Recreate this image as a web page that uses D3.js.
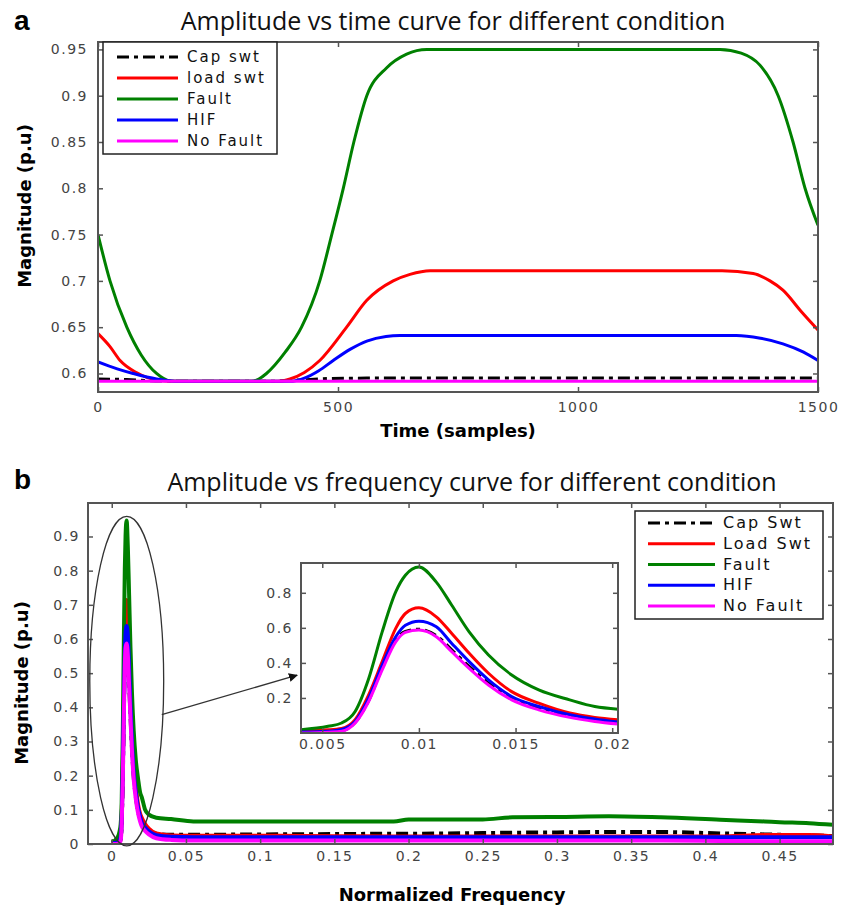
<!DOCTYPE html>
<html>
<head>
<meta charset="utf-8">
<script src="https://cdn.jsdelivr.net/npm/d3@7"></script>
<style>
  body { margin: 0; background: #fff; }
  svg text { font-family: "DejaVu Sans", sans-serif; }
</style>
</head>
<body>
<svg id="chart" width="851" height="907"></svg>
<script>
// ---- data ----
const topSeriesNames = ['Cap swt', 'load swt', 'Fault', 'HIF', 'No Fault'];
const bottomSeriesNames = ['Cap Swt', 'Load Swt', 'Fault', 'HIF', 'No Fault'];
const seriesColors = ['#000000', '#ff0000', '#008000', '#0000ff', '#ff00ff'];

// (a) amplitude vs time, [sample, magnitude]
const capTime = [[0, 0.594], [60, 0.5935], [120, 0.592], [200, 0.5915], [350, 0.5915], [420, 0.593], [480, 0.5945], [560, 0.595], [1500, 0.595]];
const loadTime = [[0, 0.643], [25, 0.629], [46, 0.614], [80, 0.601], [122, 0.593], [160, 0.5915], [375, 0.5915], [400, 0.594], [430, 0.601], [462, 0.614], [518, 0.65], [560, 0.679], [615, 0.70], [650, 0.707], [692, 0.711], [1300, 0.711], [1365, 0.708], [1400, 0.70], [1427, 0.69], [1465, 0.667], [1500, 0.647]];
const faultTime = [[0, 0.75], [25, 0.70], [60, 0.65], [90, 0.62], [122, 0.60], [150, 0.592], [170, 0.5915], [320, 0.5915], [335, 0.594], [351, 0.60], [390, 0.623], [424, 0.65], [462, 0.70], [487, 0.75], [511, 0.80], [533, 0.85], [560, 0.90], [601, 0.93], [643, 0.945], [685, 0.95], [1296, 0.95], [1340, 0.946], [1379, 0.933], [1417, 0.90], [1448, 0.85], [1473, 0.80], [1500, 0.76]];
const hifTime = [[0, 0.6125], [40, 0.605], [73, 0.60], [122, 0.594], [170, 0.5915], [400, 0.5915], [430, 0.595], [460, 0.603], [490, 0.614], [525, 0.626], [560, 0.635], [600, 0.64], [629, 0.641], [1330, 0.641], [1380, 0.638], [1427, 0.632], [1470, 0.623], [1500, 0.614]];
const noFaultTime = [[0, 0.5915], [750, 0.5915], [1500, 0.5915]];

const timeTicks = [0, 500, 1000, 1500];
const magTicksTop = [0.6, 0.65, 0.7, 0.75, 0.8, 0.85, 0.9, 0.95];

// (b) amplitude vs normalized frequency
const freqs = [0, 0.0039, 0.0053, 0.006, 0.0067, 0.0074, 0.0081, 0.0088, 0.0093, 0.01, 0.0109, 0.0117, 0.0126, 0.0136, 0.0148, 0.0162, 0.0178, 0.0191, 0.0203,
  0.0225, 0.025, 0.03, 0.04, 0.055, 0.1, 0.15, 0.19, 0.2, 0.25, 0.27, 0.3, 0.335, 0.37, 0.41, 0.44, 0.45, 0.47, 0.486];
const capFreq = [0.001, 0.003, 0.007, 0.013, 0.06, 0.185, 0.37, 0.53, 0.58, 0.592, 0.556, 0.475, 0.38, 0.285, 0.198, 0.14, 0.096, 0.072, 0.058,
  0.046, 0.038, 0.03, 0.027, 0.027, 0.028, 0.029, 0.03, 0.03, 0.032, 0.033, 0.034, 0.035, 0.035, 0.031, 0.028, 0.027, 0.025, 0.023];
const loadFreq = [0.003, 0.013, 0.018, 0.026, 0.076, 0.218, 0.407, 0.597, 0.682, 0.714, 0.663, 0.568, 0.455, 0.341, 0.236, 0.17, 0.114, 0.089, 0.076,
  0.058, 0.045, 0.031, 0.025, 0.024, 0.024, 0.023, 0.022, 0.022, 0.022, 0.022, 0.022, 0.022, 0.022, 0.022, 0.026, 0.026, 0.026, 0.022];
const faultFreq = [0.005, 0.019, 0.038, 0.057, 0.123, 0.31, 0.577, 0.805, 0.9, 0.947, 0.861, 0.729, 0.577, 0.445, 0.331, 0.246, 0.189, 0.151, 0.136,
  0.1, 0.086, 0.077, 0.073, 0.066, 0.066, 0.066, 0.066, 0.072, 0.072, 0.078, 0.079, 0.081, 0.078, 0.071, 0.066, 0.064, 0.061, 0.056];
const hifFreq = [0.002, 0.005, 0.01, 0.02, 0.066, 0.199, 0.388, 0.549, 0.615, 0.638, 0.606, 0.511, 0.407, 0.303, 0.208, 0.151, 0.104, 0.08, 0.062,
  0.048, 0.037, 0.026, 0.021, 0.02, 0.02, 0.02, 0.02, 0.02, 0.02, 0.02, 0.02, 0.02, 0.02, 0.02, 0.02, 0.02, 0.02, 0.02];
const noFaultFreq = [0, 0, 0.005, 0.01, 0.057, 0.18, 0.36, 0.52, 0.574, 0.587, 0.549, 0.464, 0.369, 0.274, 0.189, 0.132, 0.089, 0.066, 0.051,
  0.038, 0.028, 0.017, 0.012, 0.01, 0.01, 0.01, 0.01, 0.01, 0.01, 0.01, 0.01, 0.01, 0.01, 0.009, 0.008, 0.008, 0.008, 0.008];

const freqTicks = [0, 0.05, 0.1, 0.15, 0.2, 0.25, 0.3, 0.35, 0.4, 0.45];
const magTicksBottom = [0, 0.1, 0.2, 0.3, 0.4, 0.5, 0.6, 0.7, 0.8, 0.9];
const insetFreqTicks = [0.005, 0.01, 0.015, 0.02];
const insetMagTicks = [0.2, 0.4, 0.6, 0.8];

// zoom annotation (data units of panel b): ellipse round the peak, arrow to the inset
const ellipseCenter = [0.0101, 0.4766];
const ellipseRadius = [0.0249, 0.482];
const arrowFrom = [0.0337, 0.379];
const arrowTo = [0.1249, 0.494];

const svg = d3.select('#chart');
const defs = svg.append('defs');
const frameColor = '#555';

const fmt = d => String(+d.toFixed(3));

// draws a MATLAB-like boxed axes with inward ticks on all four sides
function drawBox(g, x, y, xTicks, yTicks, opts) {
  const [x0, x1] = x.range();
  const [y0, y1] = y.range(); // y0 bottom, y1 top

  const styleAxis = sel => {
    sel.attr('font-size', null).attr('font-family', null);
    sel.select('.domain').remove();
    sel.selectAll('line').attr('stroke', frameColor).attr('stroke-width', 1.5);
    sel.selectAll('text')
      .attr('fill', '#444')
      .style('font-size', opts.fontSize + 'px')
      .style('letter-spacing', opts.spacing + 'px');
  };

  g.append('g').attr('transform', `translate(0,${y0})`)
    .call(d3.axisBottom(x).tickValues(xTicks).tickSize(-5).tickPadding(opts.xPad).tickFormat(fmt))
    .call(styleAxis);
  g.append('g').attr('transform', `translate(0,${y1})`)
    .call(d3.axisTop(x).tickValues(xTicks).tickSize(-5).tickFormat(''))
    .call(styleAxis);
  g.append('g').attr('transform', `translate(${x0},0)`)
    .call(d3.axisLeft(y).tickValues(yTicks).tickSize(-5).tickPadding(opts.yPad).tickFormat(fmt))
    .call(styleAxis);
  g.append('g').attr('transform', `translate(${x1},0)`)
    .call(d3.axisRight(y).tickValues(yTicks).tickSize(-5).tickFormat(''))
    .call(styleAxis);

  g.append('rect')
    .attr('x', x0).attr('y', y1)
    .attr('width', x1 - x0).attr('height', y0 - y1)
    .attr('fill', 'none')
    .attr('stroke', frameColor)
    .attr('stroke-width', 2);
}

function drawSeries(g, x, y, list, clipId, width) {
  const line = d3.line()
    .x(d => x(d[0]))
    .y(d => y(d[1]))
    .curve(d3.curveMonotoneX);

  const lg = g.append('g').attr('clip-path', `url(#${clipId})`);
  list.forEach((pts, i) => {
    lg.append('path')
      .datum(pts)
      .attr('d', line)
      .attr('fill', 'none')
      .attr('stroke', seriesColors[i])
      .attr('stroke-width', width)
      .attr('stroke-linejoin', 'round')
      .attr('stroke-dasharray', i === 0 ? '12,5,4,5' : null);
  });
}

function addClip(id, x, y) {
  defs.append('clipPath').attr('id', id)
    .append('rect')
    .attr('x', x.range()[0]).attr('y', y.range()[1])
    .attr('width', x.range()[1] - x.range()[0])
    .attr('height', y.range()[0] - y.range()[1]);
}

function drawLegend(g, names, box, rowY, lineX, textX, fontSize) {
  g.append('rect')
    .attr('x', box.x).attr('y', box.y)
    .attr('width', box.w).attr('height', box.h)
    .attr('fill', '#fff')
    .attr('stroke', '#222')
    .attr('stroke-width', 1.5);
  names.forEach((name, i) => {
    const yy = rowY + i * box.step;
    g.append('line')
      .attr('x1', lineX[0]).attr('x2', lineX[1])
      .attr('y1', yy).attr('y2', yy)
      .attr('stroke', seriesColors[i])
      .attr('stroke-width', 3)
      .attr('stroke-dasharray', i === 0 ? '12,5,4,5' : null);
    g.append('text')
      .attr('x', textX).attr('y', yy + 5)
      .style('font-size', fontSize + 'px')
      .style('letter-spacing', '2px')
      .attr('fill', '#111')
      .text(name);
  });
}

// ---- panel a ----
const xTime = d3.scaleLinear().domain([0, 1500]).range([98, 818]);
const yTop = d3.scaleLinear().domain([0.58, 0.958]).range([392, 42]);
const gA = svg.append('g');

addClip('clipA', xTime, yTop);
drawSeries(gA, xTime, yTop, [capTime, loadTime, faultTime, hifTime, noFaultTime], 'clipA', 3);
drawBox(gA, xTime, yTop, timeTicks, magTicksTop, { fontSize: 14, spacing: 1.5, xPad: 10, yPad: 10 });
drawLegend(gA, topSeriesNames, { x: 103, y: 42, w: 174, h: 112, step: 21 }, 57, [117, 178], 187, 15);

gA.append('text').attr('x', 14).attr('y', 30)
  .style('font-family', 'Liberation Sans, Arial, sans-serif')
  .attr('font-weight', 'bold').style('font-size', '28px').text('a');
gA.append('text').attr('x', 453).attr('y', 30)
  .attr('text-anchor', 'middle')
  .style('font-family', 'Open Sans, sans-serif')
  .style('font-size', '25px').attr('fill', '#111')
  .text('Amplitude vs time curve for different condition');
gA.append('text').attr('x', 458).attr('y', 437)
  .attr('text-anchor', 'middle')
  .attr('font-weight', 'bold').style('font-size', '18px')
  .text('Time (samples)');
gA.append('text')
  .attr('transform', 'translate(31,206) rotate(-90)')
  .attr('text-anchor', 'middle')
  .attr('font-weight', 'bold').style('font-size', '18px')
  .text('Magnitude (p.u)');

// ---- panel b ----
const xFreq = d3.scaleLinear().domain([-0.016, 0.486]).range([88, 833]);
const yBottom = d3.scaleLinear().domain([0, 0.998]).range([844, 503]);
const gB = svg.append('g');

const freqSeries = [capFreq, loadFreq, faultFreq, hifFreq, noFaultFreq]
  .map(vals => vals.map((v, i) => [freqs[i], v]));

addClip('clipB', xFreq, yBottom);
drawSeries(gB, xFreq, yBottom, freqSeries, 'clipB', 4);
drawBox(gB, xFreq, yBottom, freqTicks, magTicksBottom, { fontSize: 14, spacing: 1.5, xPad: 7, yPad: 8 });

// ellipse and arrow
gB.append('ellipse')
  .attr('cx', xFreq(ellipseCenter[0]))
  .attr('cy', yBottom(ellipseCenter[1]))
  .attr('rx', xFreq(ellipseCenter[0] + ellipseRadius[0]) - xFreq(ellipseCenter[0]))
  .attr('ry', yBottom(ellipseCenter[1] - ellipseRadius[1]) - yBottom(ellipseCenter[1]))
  .attr('fill', 'none')
  .attr('stroke', '#333')
  .attr('stroke-width', 1.3);

defs.append('marker')
  .attr('id', 'arrowHead')
  .attr('viewBox', '0 0 10 10')
  .attr('refX', 9).attr('refY', 5)
  .attr('markerWidth', 7).attr('markerHeight', 7)
  .attr('orient', 'auto')
  .append('path').attr('d', 'M0,0 L10,5 L0,10 z').attr('fill', '#111');

gB.append('line')
  .attr('x1', xFreq(arrowFrom[0])).attr('y1', yBottom(arrowFrom[1]))
  .attr('x2', xFreq(arrowTo[0])).attr('y2', yBottom(arrowTo[1]))
  .attr('stroke', '#333')
  .attr('stroke-width', 1.3)
  .attr('marker-end', 'url(#arrowHead)');

// inset zoom on the peak
const xInset = d3.scaleLinear().domain([0.0039, 0.0203]).range([301, 618]);
const yInset = d3.scaleLinear().domain([0, 0.97]).range([733, 563]);
const gI = svg.append('g');
gI.append('rect')
  .attr('x', 301).attr('y', 563).attr('width', 317).attr('height', 170)
  .attr('fill', '#fff');
addClip('clipI', xInset, yInset);
const insetSeries = freqSeries.map(s => s.filter(d => d[0] >= 0.0039 && d[0] <= 0.0203));
drawSeries(gI, xInset, yInset, insetSeries, 'clipI', 3);
drawBox(gI, xInset, yInset, insetFreqTicks, insetMagTicks, { fontSize: 14, spacing: 1.5, xPad: 6, yPad: 8 });

drawLegend(gB, bottomSeriesNames, { x: 635, y: 511, w: 188, h: 108, step: 20.75 }, 523, [648, 715], 723, 16);

gB.append('text').attr('x', 14).attr('y', 489)
  .style('font-family', 'Liberation Sans, Arial, sans-serif')
  .attr('font-weight', 'bold').style('font-size', '28px').text('b');
gB.append('text').attr('x', 472).attr('y', 491)
  .attr('text-anchor', 'middle')
  .style('font-family', 'Open Sans, sans-serif')
  .style('font-size', '25px').attr('fill', '#111')
  .text('Amplitude vs frequency curve for different condition');
gB.append('text').attr('x', 452).attr('y', 901)
  .attr('text-anchor', 'middle')
  .attr('font-weight', 'bold').style('font-size', '18px')
  .text('Normalized Frequency');
gB.append('text')
  .attr('transform', 'translate(28,683) rotate(-90)')
  .attr('text-anchor', 'middle')
  .attr('font-weight', 'bold').style('font-size', '18px')
  .text('Magnitude (p.u)');
</script>
</body>
</html>
